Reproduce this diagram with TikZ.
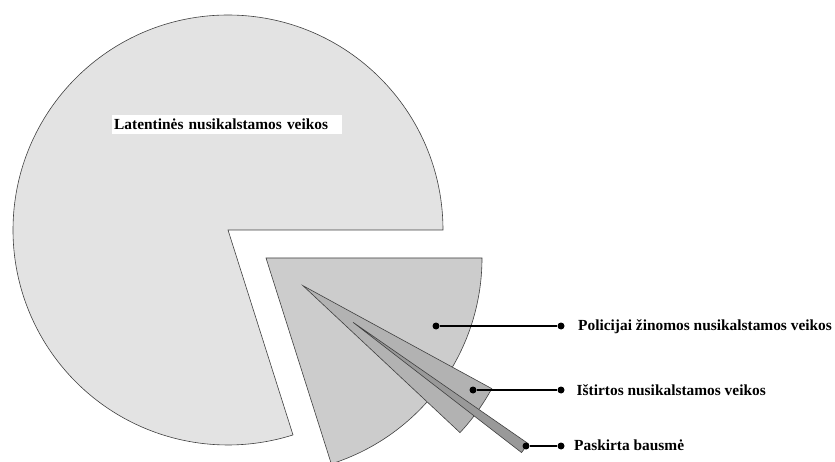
\documentclass[tikz,border=0pt]{standalone}
\usepackage{fontspec}
\setmainfont{Liberation Serif}
\usetikzlibrary{positioning}
\definecolor{pieLatent}{gray}{0.89}
\definecolor{piePolice}{gray}{0.80}
\definecolor{pieSolved}{gray}{0.70}
\definecolor{pieSentence}{gray}{0.60}

\begin{document}
\begin{tikzpicture}[x=1pt, y=1pt,
    slice/.style={draw=black!75, line width=0.6pt},
    dot/.style={circle, fill=black, inner sep=0pt, minimum size=7pt},
    lead/.style={line width=1.4pt},
    lbl/.style={font=\fontsize{15.4}{18}\selectfont\bfseries, anchor=base west, inner sep=0pt}]
  \useasboundingbox (0,0) rectangle (835,461);

  % pie slices
  \filldraw[slice, fill=pieLatent] (228,231) -- ++(0:215)
    arc[start angle=0, end angle=287.6, radius=215] -- cycle;
  \filldraw[slice, fill=piePolice] (266,203) -- ++(-72.4:216)
    arc[start angle=-72.4, end angle=0, radius=216] -- cycle;
  \filldraw[slice, fill=pieSolved] (303,175.3) -- ++(-43.1:215)
    arc[start angle=-43.1, end angle=-28.6, radius=215] -- cycle;
  \filldraw[slice, fill=pieSentence] (353,138.7) -- ++(-37.7:213)
    arc[start angle=-37.7, end angle=-34.7, radius=213] -- cycle;

  \node (latent) [fill=white, anchor=base west, inner xsep=2pt, inner ysep=4pt,
    text width=226pt, align=left, font=\fontsize{15.4}{18}\selectfont\bfseries]
    at (112,331) {Latentinės nusikalstamos veikos};

  % leaders
  \node (policeIn) [dot] at (436,135) {};
  \node (policeOut) [dot] at (561,135) {};
  \node (solvedIn) [dot] at (473,71) {};
  \node (solvedOut) [dot] at (561,71) {};
  \node (sentIn) [dot] at (526,15) {};
  \node (sentOut) [dot] at (561,15) {};
  \draw[lead] (policeIn) -- (policeOut);
  \draw[lead] (solvedIn) -- (solvedOut);
  \draw[lead] (sentIn) -- (sentOut);

  \node (police) [lbl] at (578,130.5) {Policijai žinomos nusikalstamos veikos};
  \node (solved) [lbl] at (576.5,66) {Ištirtos nusikalstamos veikos};
  \node (sentence) [lbl] at (574,10.5) {Paskirta bausmė};
\end{tikzpicture}
\end{document}
